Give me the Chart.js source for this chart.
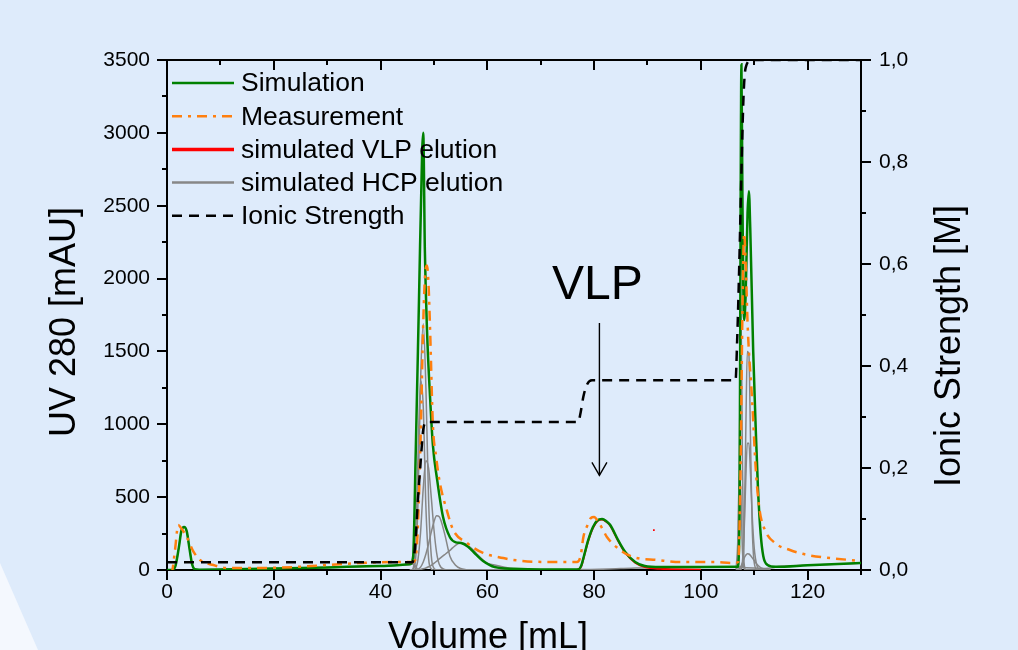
<!DOCTYPE html>
<html>
<head>
<meta charset="utf-8">
<title>VLP chromatogram</title>
<script src="https://cdn.jsdelivr.net/npm/chart.js@4.4.1/dist/chart.umd.min.js"></script>
<style>
  html, body { margin: 0; padding: 0; background: #deebfb; }
  canvas { display: block; }
</style>
</head>
<body>
<canvas id="chromatogram" width="1018" height="650"></canvas>
<script>
// simulated UV signal [mAU] over elution volume [mL]
const simVolume = [0, 1.0, 1.6, 2.2, 2.7, 3.2, 3.7, 4.2, 4.7, 5.2, 6, 10, 20, 30, 40, 45.5,
  46.1, 46.6, 47.2, 47.8, 48.0, 48.3, 48.7, 49.3, 49.8, 50.6, 51.7, 53.0, 54.1, 55.1, 56.4,
  57.9, 59.2, 61.4, 65, 70, 77, 77.6, 78.2, 78.9, 79.8, 80.6, 81.5, 82.3, 83.0, 84.5, 85.8,
  87.7, 89.5, 92.4, 100, 106.9, 107.25, 107.45, 107.6, 107.8, 108.1, 108.4, 108.75, 109.0,
  109.25, 109.8, 110.3, 110.7, 111.2, 111.7, 112.5, 114, 120, 130];
const simUV = [0, 0, 30, 150, 270, 295, 265, 150, 40, 5, 2, 3, 10, 18, 28, 40,
  90, 820, 1850, 2880, 3000, 2200, 1650, 1170, 860, 620, 365, 225, 190, 185, 160,
  105, 62, 20, 8, 3, 3, 30, 110, 205, 295, 340, 350, 335, 310, 205, 125,
  55, 27, 20, 20, 22, 400, 2500, 3470, 2500, 1715, 1900, 2450, 2600,
  2350, 1510, 950, 560, 250, 95, 35, 22, 32, 48];

// measured UV signal
const measVolume = [0.5, 0.9, 1.5, 2.1, 2.6, 3.7, 4.9, 6.2, 8.7, 11.2, 17.4, 23.6, 30, 36, 42.4,
  46.0, 46.5, 47.0, 47.5, 48.0, 48.4, 48.7, 49.0, 49.3, 49.8, 50.4, 51.1, 52.4, 53.6, 56.2,
  59.2, 63, 64.8, 71.2, 76.8, 77.5, 78.0, 78.8, 79.4, 80.0, 80.8, 81.6, 82.4, 84.9, 87.3,
  91.8, 96.1, 102.3, 106, 107.0, 107.4, 107.8, 108.1, 108.4, 108.8, 109.6, 110.3, 111.0,
  112, 113.9, 116.7, 120, 124.2, 130];
const measUV = [-20, -14, 137, 309, 290, 227, 130, 69, 34, 14, 14, 20, 34, 48, 55,
  55, 69, 300, 900, 1700, 2050, 2090, 1950, 1627, 1000, 780, 600, 412, 275, 185,
  117, 82, 69, 55, 55, 100, 227, 310, 357, 363, 330, 280, 227, 137, 89,
  69, 55, 55, 48, 55, 600, 1800, 2310, 2100, 1650, 1170, 686, 412,
  275, 185, 137, 103, 82, 62];

// simulated VLP elution
const vlpVolume = [76.8, 77.6, 78.2, 78.9, 79.8, 80.6, 81.5, 82.3, 83.0, 84.5, 85.8, 87.7, 89.5, 92.4, 100];
const vlpUV = [0, 25, 105, 200, 290, 335, 346, 331, 306, 200, 120, 50, 20, 8, 2];
const vlpSpeckVolume = [91.2];
const vlpSpeckUV = [274];

// simulated HCP elution: flow-through and tails
const hcpBaseVolume = [0, 1.0, 1.6, 2.2, 2.7, 3.2, 3.7, 4.2, 4.7, 5.2, 6, 10, 20, 30, 40, 45.5, 46.2, 47];
const hcpBaseUV = [0, 0, 30, 150, 270, 295, 265, 150, 40, 5, 2, 3, 10, 18, 28, 38, 40, 0];
const hcpTailVolume = [60, 66, 77, 85, 92, 100, 106.5, 107, 112, 115, 120, 130];
const hcpTailUV = [45, 5, 3, 10, 18, 20, 22, 20, 10, 25, 32, 46];

// HCP components, first step
const hcpVolumeA = [45.5, 46.0, 46.5, 47.0, 47.5, 48.0, 48.5, 49.0, 49.5, 50.0, 50.5, 51.0,
  52.0, 53.0, 54.0, 55.0, 56.0, 57.0, 58.0, 59.0, 60.0, 62.0, 64.0, 66.0];
const hcpA1 = [0, 5, 150, 760, 1300, 1120, 430, 80, 8, 0, 0, 0, 0, 0, 0, 0, 0, 0, 0, 0, 0, 0, 0, 0];
const hcpA2 = [0, 2, 50, 450, 1300, 1690, 1250, 480, 100, 12, 1, 0, 0, 0, 0, 0, 0, 0, 0, 0, 0, 0, 0, 0];
const hcpA3 = [0, 0, 8, 70, 260, 560, 750, 700, 500, 280, 120, 40, 4, 0, 0, 0, 0, 0, 0, 0, 0, 0, 0, 0];
const hcpA4 = [0, 0, 1, 5, 20, 55, 110, 180, 260, 330, 372, 365, 250, 95, 35, 10, 2, 0, 0, 0, 0, 0, 0, 0];
const hcpA5 = [0, 0, 1, 2, 4, 8, 14, 22, 32, 45, 60, 76, 105, 135, 168, 185, 178, 150, 112, 75, 47, 17, 7, 4];

// HCP components, high salt step
const hcpVolumeB = [106.6, 106.9, 107.2, 107.5, 107.8, 108.1, 108.4, 108.7, 109.0, 109.3, 109.6,
  110.0, 110.5, 111.0, 111.5, 112.0, 113.0];
const hcpB1 = [0, 40, 700, 1840, 720, 50, 2, 0, 0, 0, 0, 0, 0, 0, 0, 0, 0];
const hcpB2 = [5, 180, 650, 520, 130, 12, 0, 0, 0, 0, 0, 0, 0, 0, 0, 0, 0];
const hcpB3 = [0, 0, 0, 5, 30, 260, 900, 1500, 1480, 900, 320, 50, 3, 0, 0, 0, 0];
const hcpB4 = [0, 0, 2, 8, 60, 250, 600, 870, 870, 660, 390, 150, 30, 4, 0, 0, 0];
const hcpB5 = [0, 2, 10, 25, 50, 80, 100, 112, 110, 100, 85, 65, 40, 22, 10, 5, 1];

// ionic strength [M]
const ionicVolume = [0, 46.0, 46.5, 47.0, 47.5, 48.0, 48.6, 77.0, 77.5, 78.0, 78.6, 79.6,
  106.5, 106.8, 107.2, 107.6, 108.0, 108.4, 109.5, 130];
const ionicM = [0.015, 0.015, 0.05, 0.137, 0.21, 0.275, 0.29, 0.29, 0.31, 0.34, 0.362, 0.372,
  0.372, 0.45, 0.6, 0.78, 0.93, 0.985, 1.0, 1.0];

// axis ticks
const volumeTicks = [0, 20, 40, 60, 80, 100, 120];
const volumeTickLabels = ['0', '20', '40', '60', '80', '100', '120'];
const uvTicks = [0, 500, 1000, 1500, 2000, 2500, 3000, 3500];
const uvTickLabels = ['0', '500', '1000', '1500', '2000', '2500', '3000', '3500'];
const ionicTicks = [0, 0.2, 0.4, 0.6, 0.8, 1.0];
const ionicTickLabels = ['0,0', '0,2', '0,4', '0,6', '0,8', '1,0'];

const FONT = '"Liberation Sans", Arial, Helvetica, sans-serif';

function pts(xs, ys) {
  return xs.map((x, i) => ({ x: x, y: ys[i] }));
}

const GREEN = '#008000';
const ORANGE = '#ff7f0e';
const RED = '#ff0000';
const GRAY = '#878787';

const line = { showLine: true, pointRadius: 0, fill: false, tension: 0.3, cubicInterpolationMode: 'monotone' };
function hcp(xs, ys) {
  return Object.assign({ data: pts(xs, ys), borderColor: GRAY, borderWidth: 1.5, order: 5 }, line);
}

const datasets = [
  Object.assign({ label: 'Ionic Strength', data: pts(ionicVolume, ionicM), yAxisID: 'y1',
    borderColor: '#000', borderWidth: 2.5, borderDash: [10, 7], order: 0 }, line),
  Object.assign({ label: 'Measurement', data: pts(measVolume, measUV),
    borderColor: ORANGE, borderWidth: 2.5, borderDash: [10, 6, 3, 6], order: 1 }, line),
  Object.assign({ label: 'Simulation', data: pts(simVolume, simUV),
    borderColor: GREEN, borderWidth: 2.5, order: 2 }, line),
  Object.assign({ label: 'simulated VLP elution', data: pts(vlpVolume, vlpUV),
    borderColor: RED, borderWidth: 2, order: 3 }, line),
  { data: pts(vlpSpeckVolume, vlpSpeckUV), showLine: false, pointStyle: 'rect', pointRadius: 1.2,
    pointBackgroundColor: RED, pointBorderWidth: 0, order: 3 },
  hcp(hcpBaseVolume, hcpBaseUV),
  hcp(hcpTailVolume, hcpTailUV),
  hcp(hcpVolumeA, hcpA1), hcp(hcpVolumeA, hcpA2), hcp(hcpVolumeA, hcpA3),
  hcp(hcpVolumeA, hcpA4), hcp(hcpVolumeA, hcpA5),
  hcp(hcpVolumeB, hcpB1), hcp(hcpVolumeB, hcpB2), hcp(hcpVolumeB, hcpB3),
  hcp(hcpVolumeB, hcpB4), hcp(hcpVolumeB, hcpB5)
];

// legend entries: label, colour, width, dash
const legendItems = [
  { text: 'Simulation', color: GREEN, width: 2.5, dash: [] },
  { text: 'Measurement', color: ORANGE, width: 2.5, dash: [10, 6, 3, 6] },
  { text: 'simulated VLP elution', color: RED, width: 3.5, dash: [] },
  { text: 'simulated HCP elution', color: GRAY, width: 2.5, dash: [] },
  { text: 'Ionic Strength', color: '#000', width: 2.5, dash: [10, 7] }
];

function stroke(ctx, x1, y1, x2, y2) {
  ctx.beginPath();
  ctx.moveTo(x1, y1);
  ctx.lineTo(x2, y2);
  ctx.stroke();
}

const decor = {
  id: 'decor',
  beforeDraw(chart) {
    const ctx = chart.ctx;
    ctx.save();
    ctx.fillStyle = '#deebfb';
    ctx.fillRect(0, 0, chart.width, chart.height);
    ctx.fillStyle = '#f4f8fe';
    ctx.beginPath();
    ctx.moveTo(0, 563);
    ctx.lineTo(38, 650);
    ctx.lineTo(0, 650);
    ctx.closePath();
    ctx.fill();
    ctx.restore();
  },
  afterDraw(chart) {
    const ctx = chart.ctx;
    const a = chart.chartArea;
    const sx = chart.scales.x, sy = chart.scales.y, sy1 = chart.scales.y1;
    ctx.save();
    ctx.strokeStyle = '#000';
    ctx.lineWidth = 2;
    ctx.setLineDash([]);

    // top frame line
    stroke(ctx, a.left - 1, a.top, a.right + 1, a.top);

    // x ticks: outward at the bottom, inward at the top
    for (let v = 0; v <= 130; v += 10) {
      const px = Math.round(sx.getPixelForValue(v));
      const len = v % 20 === 0 ? 10 : 5;
      stroke(ctx, px, a.bottom, px, a.bottom + len);
      if (v > 0 && v < 130) stroke(ctx, px, a.top, px, a.top + len);
    }
    // left ticks
    for (let v = 0; v <= 3500; v += 250) {
      const py = Math.round(sy.getPixelForValue(v));
      const len = v % 500 === 0 ? 10 : 5;
      stroke(ctx, a.left, py, a.left - len, py);
    }
    // right ticks
    for (let i = 0; i <= 10; i++) {
      const py = Math.round(sy1.getPixelForValue(i / 10));
      const len = i % 2 === 0 ? 10 : 5;
      stroke(ctx, a.right, py, a.right + len, py);
    }

    // axis titles
    ctx.fillStyle = '#000';
    ctx.font = '36px ' + FONT;
    ctx.textAlign = 'center';
    ctx.textBaseline = 'alphabetic';
    ctx.fillText('Volume [mL]', (a.left + a.right) / 2 - 26, 648);
    ctx.save();
    ctx.translate(75, 322);
    ctx.rotate(-Math.PI / 2);
    ctx.fillText('UV 280 [mAU]', 0, 0);
    ctx.restore();
    ctx.save();
    ctx.translate(960, 346);
    ctx.rotate(-Math.PI / 2);
    ctx.fillText('Ionic Strength [M]', 0, 0);
    ctx.restore();

    // VLP marker with arrow
    const vx = sx.getPixelForValue(81.0);
    ctx.font = '48px ' + FONT;
    ctx.fillText('VLP', vx - 2, sy.getPixelForValue(1860));
    const top = sy.getPixelForValue(1695), tip = sy.getPixelForValue(650);
    ctx.lineWidth = 1.4;
    stroke(ctx, vx, top, vx, tip);
    ctx.beginPath();
    ctx.moveTo(vx - 7.5, tip - 13);
    ctx.lineTo(vx, tip);
    ctx.lineTo(vx + 7.5, tip - 13);
    ctx.stroke();

    // legend
    ctx.font = '26.5px ' + FONT;
    ctx.textAlign = 'left';
    ctx.textBaseline = 'middle';
    legendItems.forEach((it, i) => {
      const y = a.top + 23 + i * 33.2;
      ctx.strokeStyle = it.color;
      ctx.lineWidth = it.width;
      ctx.setLineDash(it.dash);
      stroke(ctx, a.left + 5, y, a.left + 67, y);
      ctx.setLineDash([]);
      ctx.fillText(it.text, a.left + 74, y + 1);
    });
    ctx.restore();
  }
};

const tickFont = { family: FONT, size: 21 };

new Chart(document.getElementById('chromatogram'), {
  type: 'scatter',
  data: { datasets: datasets },
  options: {
    responsive: false,
    animation: false,
    devicePixelRatio: 1,
    layout: { padding: { top: 60, left: 0, right: 0, bottom: 0 } },
    plugins: { legend: { display: false }, tooltip: { enabled: false } },
    scales: {
      x: {
        type: 'linear', position: 'bottom', min: 0, max: 130,
        afterBuildTicks: s => { s.ticks = volumeTicks.map(v => ({ value: v })); },
        afterFit: s => { s.height = 80; },
        grid: { display: false, drawTicks: false },
        border: { display: true, color: '#000', width: 2 },
        ticks: { color: '#000', font: tickFont, padding: 10, maxRotation: 0,
          callback: (v, i) => volumeTickLabels[i] }
      },
      y: {
        type: 'linear', position: 'left', min: 0, max: 3500,
        afterBuildTicks: s => { s.ticks = uvTicks.map(v => ({ value: v })); },
        afterFit: s => { s.width = 167; },
        grid: { display: false, drawTicks: false },
        border: { display: true, color: '#000', width: 2 },
        ticks: { color: '#000', font: tickFont, padding: 17,
          callback: (v, i) => uvTickLabels[i] }
      },
      y1: {
        type: 'linear', position: 'right', min: 0, max: 1,
        afterBuildTicks: s => { s.ticks = ionicTicks.map(v => ({ value: v })); },
        afterFit: s => { s.width = 157; },
        grid: { display: false, drawTicks: false },
        border: { display: true, color: '#000', width: 2 },
        ticks: { color: '#000', font: tickFont, padding: 18,
          callback: (v, i) => ionicTickLabels[i] }
      }
    }
  },
  plugins: [decor]
});
</script>
</body>
</html>
